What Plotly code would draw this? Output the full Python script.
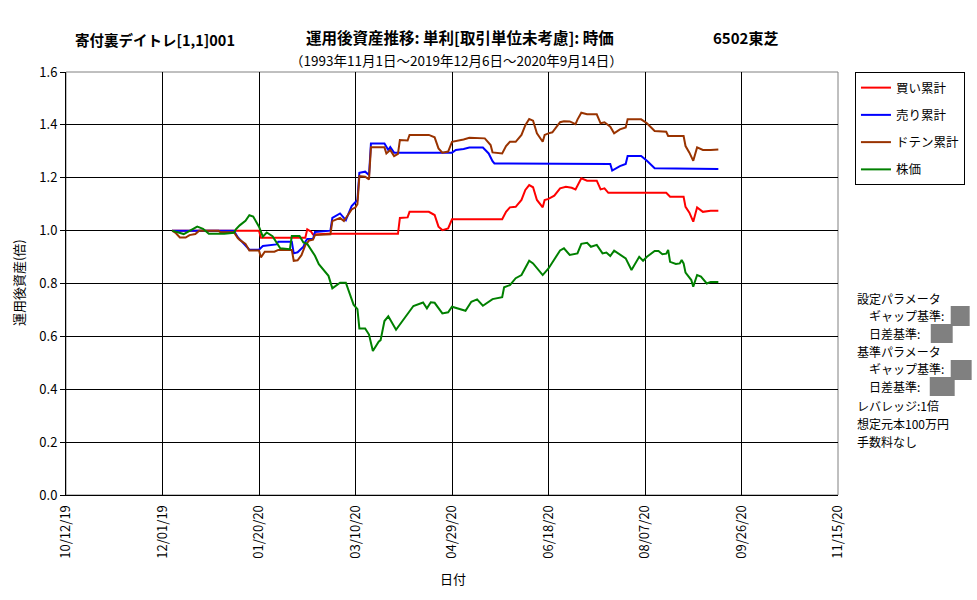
import plotly.graph_objects as go

FONT = "Noto Sans CJK JP"

# ---------------- data ----------------
buy_dates = ["2019-12-06","2020-01-20","2020-01-21","2020-02-13","2020-02-14","2020-02-16","2020-02-17","2020-02-25",
             "2020-04-01","2020-04-02","2020-04-06","2020-04-07","2020-04-17","2020-04-20","2020-04-22","2020-04-24",
             "2020-04-27","2020-04-29","2020-05-25","2020-05-27","2020-05-29","2020-06-01","2020-06-04","2020-06-06",
             "2020-06-08","2020-06-10","2020-06-12","2020-06-15","2020-06-16","2020-06-18","2020-06-21","2020-06-24",
             "2020-06-27","2020-06-30","2020-07-02","2020-07-03","2020-07-05","2020-07-08","2020-07-13","2020-07-15",
             "2020-07-17","2020-07-19","2020-08-18","2020-08-20","2020-08-27","2020-08-28","2020-08-30","2020-09-01",
             "2020-09-03","2020-09-06","2020-09-10","2020-09-14"]
buy_vals = [1.0,1.0,0.973,0.973,1.005,0.996,0.985,0.988,
            0.988,1.048,1.050,1.071,1.071,1.059,1.015,1.002,
            1.008,1.043,1.043,1.071,1.088,1.090,1.116,1.154,
            1.172,1.164,1.116,1.088,1.116,1.120,1.132,1.160,
            1.166,1.162,1.156,1.170,1.198,1.189,1.189,1.156,
            1.160,1.143,1.143,1.128,1.128,1.090,1.068,1.034,
            1.088,1.071,1.075,1.075]

sell_dates = ["2019-12-06","2020-01-07","2020-01-09","2020-01-11","2020-01-15","2020-01-20","2020-01-22","2020-01-29",
              "2020-01-30","2020-02-06","2020-02-07","2020-02-09","2020-02-12","2020-02-13","2020-02-14","2020-02-17",
              "2020-02-18","2020-02-26","2020-02-27","2020-03-02","2020-03-05","2020-03-08","2020-03-11","2020-03-12",
              "2020-03-15","2020-03-17","2020-03-18","2020-03-25","2020-03-27","2020-03-28","2020-03-30","2020-04-29",
              "2020-05-01","2020-05-05","2020-05-08","2020-05-15","2020-05-18","2020-05-20","2020-05-21","2020-07-20",
              "2020-07-21","2020-07-25","2020-07-28","2020-07-29","2020-08-05","2020-08-08","2020-08-12","2020-09-14"]
sell_vals = [1.0,1.0,0.975,0.958,0.928,0.928,0.942,0.948,
             0.958,0.958,0.914,0.918,0.939,0.958,0.968,0.968,
             0.995,1.0,1.048,1.065,1.040,1.093,1.116,1.219,
             1.223,1.210,1.330,1.330,1.305,1.316,1.295,1.295,
             1.305,1.309,1.314,1.314,1.292,1.263,1.254,1.252,
             1.227,1.244,1.252,1.282,1.282,1.264,1.236,1.233]

doten_dates = ["2019-12-06","2019-12-08","2019-12-10","2019-12-13","2019-12-15","2019-12-18","2019-12-20","2019-12-30",
               "2019-12-31","2020-01-07","2020-01-09","2020-01-10","2020-01-13","2020-01-15","2020-01-20","2020-01-21",
               "2020-01-23","2020-01-28","2020-01-30","2020-02-06","2020-02-07","2020-02-09","2020-02-11","2020-02-13",
               "2020-02-15","2020-02-17","2020-02-18","2020-02-26","2020-02-27","2020-03-02","2020-03-04","2020-03-06",
               "2020-03-08","2020-03-10","2020-03-11","2020-03-12","2020-03-15","2020-03-17","2020-03-18","2020-03-25",
               "2020-03-26","2020-03-28","2020-03-30","2020-04-01","2020-04-02","2020-04-06","2020-04-07","2020-04-17",
               "2020-04-20","2020-04-22","2020-04-24","2020-04-27","2020-04-29","2020-05-05","2020-05-08","2020-05-16",
               "2020-05-19","2020-05-20","2020-05-25","2020-05-27","2020-05-29","2020-06-01","2020-06-04","2020-06-06",
               "2020-06-08","2020-06-10","2020-06-12","2020-06-15","2020-06-16","2020-06-18","2020-06-20","2020-06-24",
               "2020-06-26","2020-06-29","2020-07-02","2020-07-03","2020-07-05","2020-07-08","2020-07-13","2020-07-15",
               "2020-07-17","2020-07-20","2020-07-22","2020-07-25","2020-07-28","2020-07-29","2020-08-05","2020-08-08",
               "2020-08-12","2020-08-18","2020-08-19","2020-08-27","2020-08-28","2020-08-30","2020-09-01","2020-09-03",
               "2020-09-06","2020-09-10","2020-09-14"]
doten_vals = [1.0,0.990,0.974,0.974,0.983,0.987,1.0,1.0,
              0.994,0.994,0.972,0.965,0.950,0.925,0.925,0.899,
              0.920,0.920,0.927,0.927,0.886,0.888,0.907,0.945,
              0.963,0.966,0.983,0.986,1.036,1.048,1.036,1.059,
              1.080,1.088,1.100,1.206,1.204,1.194,1.315,1.315,
              1.292,1.305,1.282,1.290,1.343,1.341,1.362,1.362,
              1.353,1.311,1.295,1.299,1.336,1.345,1.351,1.349,
              1.324,1.296,1.292,1.320,1.336,1.336,1.362,1.399,
              1.422,1.416,1.368,1.336,1.362,1.368,1.372,1.410,
              1.414,1.413,1.403,1.420,1.446,1.440,1.440,1.406,
              1.410,1.393,1.368,1.383,1.390,1.421,1.421,1.406,
              1.377,1.374,1.358,1.358,1.320,1.295,1.264,1.315,
              1.305,1.305,1.307]

price_dates = ["2019-12-06","2019-12-12","2019-12-19","2019-12-22","2019-12-25","2020-01-02","2020-01-07","2020-01-08",
               "2020-01-10","2020-01-13","2020-01-15","2020-01-17","2020-01-20","2020-01-22","2020-01-24","2020-01-27",
               "2020-01-31","2020-02-05","2020-02-06","2020-02-10","2020-02-12","2020-02-14","2020-02-18","2020-02-20",
               "2020-02-25","2020-02-27","2020-03-02","2020-03-05","2020-03-09","2020-03-11","2020-03-12","2020-03-15",
               "2020-03-17","2020-03-19","2020-03-22","2020-03-23","2020-03-25","2020-03-27","2020-03-31","2020-04-07",
               "2020-04-09","2020-04-14","2020-04-16","2020-04-18","2020-04-20","2020-04-24","2020-04-27","2020-04-29",
               "2020-05-06","2020-05-09","2020-05-12","2020-05-15","2020-05-20","2020-05-25","2020-05-26","2020-05-29",
               "2020-06-01","2020-06-04","2020-06-08","2020-06-10","2020-06-15","2020-06-18","2020-06-22","2020-06-24",
               "2020-06-26","2020-06-29","2020-07-03","2020-07-05","2020-07-08","2020-07-10","2020-07-13","2020-07-16",
               "2020-07-18","2020-07-20","2020-07-22","2020-07-25","2020-07-28","2020-07-31","2020-08-04","2020-08-06",
               "2020-08-08","2020-08-12","2020-08-14","2020-08-16","2020-08-18","2020-08-19","2020-08-20","2020-08-23",
               "2020-08-25","2020-08-26","2020-08-27","2020-08-28","2020-08-31","2020-09-01","2020-09-03","2020-09-05",
               "2020-09-08","2020-09-10","2020-09-14"]
price_vals = [1.0,0.987,1.015,1.007,0.988,0.988,0.992,1.005,
              1.020,1.037,1.058,1.053,1.015,0.977,0.993,0.979,
              0.933,0.930,0.980,0.980,0.955,0.950,0.905,0.873,
              0.829,0.782,0.803,0.803,0.720,0.703,0.630,0.630,
              0.607,0.545,0.580,0.586,0.658,0.676,0.625,0.698,
              0.715,0.728,0.706,0.729,0.727,0.687,0.691,0.712,
              0.697,0.731,0.740,0.716,0.741,0.748,0.786,0.794,
              0.820,0.832,0.886,0.876,0.832,0.857,0.906,0.925,
              0.933,0.908,0.914,0.950,0.954,0.939,0.946,0.914,
              0.917,0.904,0.924,0.908,0.895,0.851,0.901,0.886,
              0.901,0.923,0.923,0.911,0.913,0.927,0.882,0.874,
              0.876,0.889,0.876,0.841,0.813,0.788,0.832,0.826,
              0.800,0.806,0.806]

series = [
    ("買い累計", buy_dates, buy_vals, "#FF0000"),
    ("売り累計", sell_dates, sell_vals, "#0000FF"),
    ("ドテン累計", doten_dates, doten_vals, "#993300"),
    ("株価", price_dates, price_vals, "#008000"),
]

y_ticks = [0.0, 0.2, 0.4, 0.6, 0.8, 1.0, 1.2, 1.4, 1.6]

# ---------------- figure ----------------
fig = go.Figure()
for i, (name, d, v, c) in enumerate(series):
    fig.add_trace(go.Scatter(x=d, y=v, mode="lines", name=name,
                             line=dict(color=c, width=2), legendgroup=f"g{i}"))

W, H = 977, 600
L, R, T, B = 66, 137, 72, 105
pw, ph = W - L - R, H - T - B

def px(x):
    return (x - L) / pw

def py(y):
    return (H - B - y) / ph

annos = []
def text(x, y, s, size=13, xanchor="center", pad=1):
    annos.append(dict(x=px(x), y=py(y), xref="paper", yref="paper", text=s, showarrow=False,
                      xanchor=xanchor, yanchor="middle", borderpad=pad,
                      font=dict(size=size, color="black", family=FONT)))

text(155, 40, "<b>寄付裏デイトレ[1,1]001</b>", 14.5)
text(461, 37, "<b>運用後資産推移: 単利[取引単位未考慮]: 時価</b>", 15.5)
text(747, 37, "<b>6502東芝</b>", 15)
text(458, 60, "（1993年11月1日～2019年12月6日～2020年9月14日）", 13.5)
text(454, 578, "日付", 13)
annos.append(dict(x=px(18), y=py(283), xref="paper", yref="paper", text="運用後資産(倍)", showarrow=False,
                  xanchor="center", yanchor="middle",
                  textangle=-90, font=dict(size=13, color="black", family=FONT)))

side = [(858, 298, "設定パラメータ"), (870, 315, "ギャップ基準:"), (870, 333, "日差基準:"),
        (858, 351, "基準パラメータ"), (870, 368, "ギャップ基準:"), (870, 386, "日差基準:"),
        (858, 405, "レバレッジ:1倍"), (858, 423, "想定元本100万円"), (858, 441, "手数料なし")]
for x, y, s in side:
    text(x, y, s, 12, xanchor="left", pad=0)

shapes = [dict(type="rect", xref="paper", yref="paper", x0=0, y0=0, x1=1, y1=1,
               line=dict(color="#808080", width=1), layer="below")]
for (x0, y0, x1, y1) in [(953, 306, 972, 326), (933, 324, 955, 343), (953, 360, 974, 380), (932, 377, 957, 396)]:
    shapes.append(dict(type="rect", xref="paper", yref="paper", x0=px(x0), x1=px(x1), y0=py(y1), y1=py(y0),
                       fillcolor="#808080", line=dict(width=0), layer="below"))

fig.update_layout(
    width=W, height=H,
    margin=dict(l=L, r=R, t=T, b=B),
    paper_bgcolor="white", plot_bgcolor="white",
    font=dict(family=FONT, size=13, color="black"),
    showlegend=True,
    legend=dict(x=px(857), y=1.0, xanchor="left", yanchor="top",
                bordercolor="black", borderwidth=1, bgcolor="white",
                font=dict(size=12.5, family=FONT), tracegroupgap=8, itemwidth=30,
                traceorder="grouped"),
    annotations=annos,
    shapes=shapes,
    xaxis=dict(type="date", range=["2019-10-12", "2020-11-15"], tick0="2019-10-12",
               dtick=50 * 86400000, tickformat="%m/%d/%y", tickangle=-90,
               showgrid=True, gridcolor="black", gridwidth=1,
               showline=True, linecolor="black", linewidth=1,
               ticks="outside", ticklen=4, tickcolor="white",
               tickfont=dict(size=13, family=FONT), zeroline=False),
    yaxis=dict(range=[0, 1.6], tickvals=y_ticks, tickformat=".1f",
               showgrid=True, gridcolor="black", gridwidth=1,
               showline=True, linecolor="black", linewidth=1,
               ticks="outside", ticklen=5, tickcolor="black",
               tickfont=dict(size=13, family=FONT), zeroline=False),
)

fig.write_html("out.html")
